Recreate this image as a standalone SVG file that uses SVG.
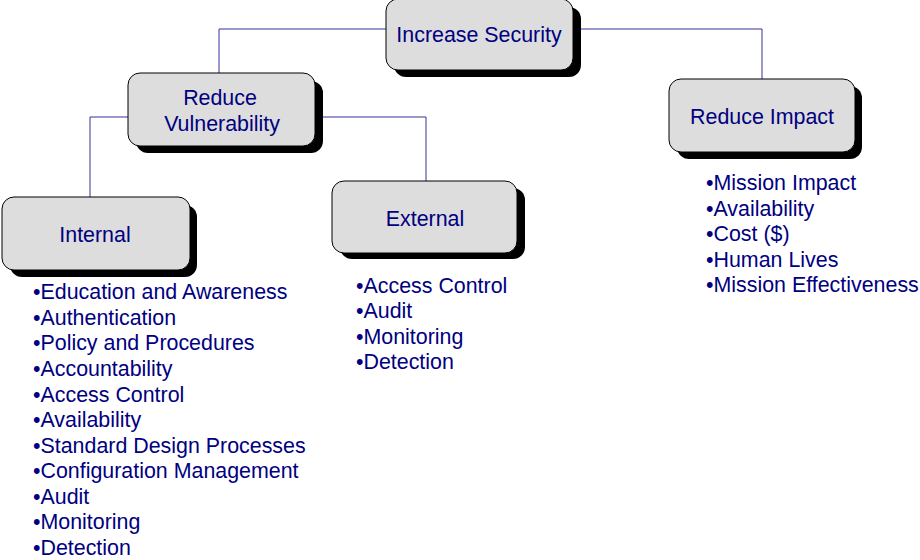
<svg xmlns="http://www.w3.org/2000/svg" width="920" height="560" viewBox="0 0 920 560">
<style>
.shadow{fill:#000}
.box{fill:#DDDDDD;stroke:#000;stroke-width:1}
.lbl{font-family:"Liberation Sans",Arial,sans-serif;font-size:21.4px;fill:#000080;text-anchor:middle}
.lst{font-family:"Liberation Sans",Arial,sans-serif;font-size:21.4px;fill:#000080}
.con{fill:none;stroke:#333399;stroke-width:1}
</style>
<rect width="920" height="560" fill="#fff"/>
<g id="connectors">
<polyline class="con" points="386,29 219,29 219,73"/>
<polyline class="con" points="573,29 762,29 762,79"/>
<polyline class="con" points="128,117 90,117 90,197"/>
<polyline class="con" points="315,117 426,117 426,181"/>
</g>
<g id="increase-security">
<rect class="shadow" x="394" y="7" width="187" height="70" rx="12"/>
<rect class="box" x="386" y="-1" width="187" height="71" rx="12"/>
<text class="lbl" x="479" y="42">Increase Security</text>
</g>
<g id="reduce-vulnerability">
<rect class="shadow" x="136" y="81" width="187" height="72" rx="12"/>
<rect class="box" x="128" y="73" width="187" height="73" rx="12"/>
<text class="lbl" x="220" y="105">Reduce</text>
<text class="lbl" x="222" y="131">Vulnerability</text>
</g>
<g id="internal">
<rect class="shadow" x="10" y="205" width="187" height="72" rx="12"/>
<rect class="box" x="2" y="197" width="188" height="73" rx="12"/>
<text class="lbl" x="95" y="242">Internal</text>
</g>
<g id="external">
<rect class="shadow" x="340" y="188" width="185" height="71" rx="12"/>
<rect class="box" x="332" y="181" width="185" height="72" rx="12"/>
<text class="lbl" x="425" y="226">External</text>
</g>
<g id="reduce-impact">
<rect class="shadow" x="677" y="86" width="185" height="73" rx="12"/>
<rect class="box" x="669" y="79" width="186" height="73" rx="12"/>
<text class="lbl" x="762" y="124">Reduce Impact</text>
</g>
<g id="internal-list">
<text class="lst" x="33" y="299">•Education and Awareness</text>
<text class="lst" x="33" y="325">•Authentication</text>
<text class="lst" x="33" y="350">•Policy and Procedures</text>
<text class="lst" x="33" y="376">•Accountability</text>
<text class="lst" x="33" y="402">•Access Control</text>
<text class="lst" x="33" y="427">•Availability</text>
<text class="lst" x="33" y="453">•Standard Design Processes</text>
<text class="lst" x="33" y="478">•Configuration Management</text>
<text class="lst" x="33" y="504">•Audit</text>
<text class="lst" x="33" y="529">•Monitoring</text>
<text class="lst" x="33" y="555">•Detection</text>
</g>
<g id="external-list">
<text class="lst" x="356" y="293">•Access Control</text>
<text class="lst" x="356" y="318">•Audit</text>
<text class="lst" x="356" y="344">•Monitoring</text>
<text class="lst" x="356" y="369">•Detection</text>
</g>
<g id="impact-list">
<text class="lst" x="706" y="190">•Mission Impact</text>
<text class="lst" x="706" y="216">•Availability</text>
<text class="lst" x="706" y="241">•Cost ($)</text>
<text class="lst" x="706" y="267">•Human Lives</text>
<text class="lst" x="706" y="292">•Mission Effectiveness</text>
</g>
</svg>
